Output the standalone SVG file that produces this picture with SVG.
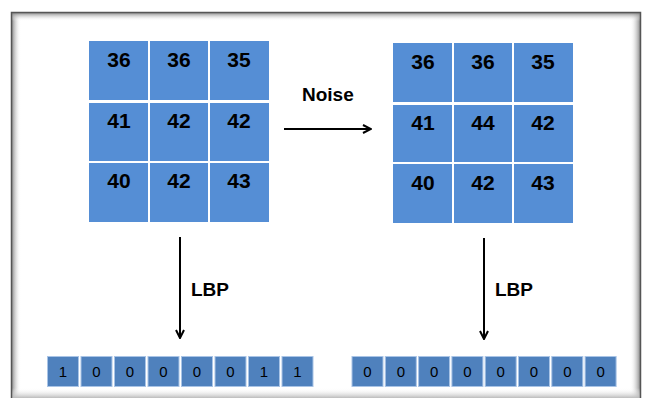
<svg xmlns="http://www.w3.org/2000/svg" width="646" height="398" viewBox="0 0 646 398">
  <defs>
    <style>
      .cell { fill: #558ED5; }
      .bit { fill: #4F81BD; stroke: #A9C4E6; stroke-width: 1; }
      .num { font-family: "Liberation Sans", Arial, sans-serif; font-weight: bold; font-size: 21px; fill: #000; text-anchor: middle; }
      .bitt { font-family: "Liberation Sans", Arial, sans-serif; font-size: 15px; fill: #000; text-anchor: middle; }
      .lbl { font-family: "Liberation Sans", Arial, sans-serif; font-weight: bold; font-size: 19px; fill: #000; }
      .conn { stroke: #000; stroke-width: 2; fill: none; }
    </style>
    <linearGradient id="shL" x1="0" y1="0" x2="1" y2="0">
      <stop offset="0" stop-color="#777"/>
      <stop offset="1" stop-color="#fff" stop-opacity="0"/>
    </linearGradient>
    <linearGradient id="shR" x1="1" y1="0" x2="0" y2="0">
      <stop offset="0" stop-color="#777"/>
      <stop offset="1" stop-color="#fff" stop-opacity="0"/>
    </linearGradient>
    <linearGradient id="shT" x1="0" y1="0" x2="0" y2="1">
      <stop offset="0" stop-color="#777"/>
      <stop offset="1" stop-color="#fff" stop-opacity="0"/>
    </linearGradient>
    <linearGradient id="shB" x1="0" y1="1" x2="0" y2="0">
      <stop offset="0" stop-color="#bbb"/>
      <stop offset="1" stop-color="#fff" stop-opacity="0"/>
    </linearGradient>
    <marker id="arrow" viewBox="0 0 10 10" refX="9" refY="5" markerWidth="5" markerHeight="5" orient="auto" markerUnits="strokeWidth">
      <path d="M1,1 L9,5 L1,9" fill="none" stroke="#000" stroke-width="2"/>
    </marker>
  </defs>

  <rect width="646" height="398" fill="#fff"/>

  <!-- framed panel with inner shadow -->
  <g id="frame">
    <rect x="11" y="12" width="10" height="386" fill="url(#shL)"/>
    <rect x="630" y="12" width="11" height="386" fill="url(#shR)"/>
    <rect x="11" y="12" width="630" height="9" fill="url(#shT)"/>
    <rect x="11" y="388" width="630" height="10" fill="url(#shB)"/>
    <path d="M11.5,398 V12.5 H640.5 V398" fill="none" stroke="#555" stroke-width="1.5"/>
  </g>

  <!-- original 3x3 patch -->
  <g id="patch-original">
    <rect class="cell" x="89" y="41" width="59" height="59"/>
    <rect class="cell" x="150" y="41" width="58" height="59"/>
    <rect class="cell" x="210" y="41" width="59" height="59"/>
    <rect class="cell" x="89" y="103" width="59" height="58"/>
    <rect class="cell" x="150" y="103" width="58" height="58"/>
    <rect class="cell" x="210" y="103" width="59" height="58"/>
    <rect class="cell" x="89" y="163" width="59" height="59"/>
    <rect class="cell" x="150" y="163" width="58" height="59"/>
    <rect class="cell" x="210" y="163" width="59" height="59"/>
    <text class="num" x="119" y="67">36</text>
    <text class="num" x="179" y="67">36</text>
    <text class="num" x="239" y="67">35</text>
    <text class="num" x="119" y="128">41</text>
    <text class="num" x="179" y="128">42</text>
    <text class="num" x="239" y="128">42</text>
    <text class="num" x="119" y="188">40</text>
    <text class="num" x="179" y="188">42</text>
    <text class="num" x="239" y="188">43</text>
  </g>

  <!-- noisy 3x3 patch -->
  <g id="patch-noisy">
    <rect class="cell" x="393" y="43" width="59" height="59"/>
    <rect class="cell" x="454" y="43" width="58" height="59"/>
    <rect class="cell" x="514" y="43" width="59" height="59"/>
    <rect class="cell" x="393" y="105" width="59" height="57"/>
    <rect class="cell" x="454" y="105" width="58" height="57"/>
    <rect class="cell" x="514" y="105" width="59" height="57"/>
    <rect class="cell" x="393" y="164" width="59" height="59"/>
    <rect class="cell" x="454" y="164" width="58" height="59"/>
    <rect class="cell" x="514" y="164" width="59" height="59"/>
    <text class="num" x="423" y="69">36</text>
    <text class="num" x="483" y="69">36</text>
    <text class="num" x="543" y="69">35</text>
    <text class="num" x="423" y="130">41</text>
    <text class="num" x="483" y="130">44</text>
    <text class="num" x="543" y="130">42</text>
    <text class="num" x="423" y="190">40</text>
    <text class="num" x="483" y="190">42</text>
    <text class="num" x="543" y="190">43</text>
  </g>

  <!-- LBP code of the original patch -->
  <g id="code-original">
    <rect class="bit" x="47.5" y="356.5" width="31" height="30"/>
    <rect class="bit" x="81" y="356.5" width="31" height="30"/>
    <rect class="bit" x="114.5" y="356.5" width="31" height="30"/>
    <rect class="bit" x="148" y="356.5" width="31" height="30"/>
    <rect class="bit" x="181.5" y="356.5" width="31" height="30"/>
    <rect class="bit" x="215" y="356.5" width="31" height="30"/>
    <rect class="bit" x="248.5" y="356.5" width="31" height="30"/>
    <rect class="bit" x="282" y="356.5" width="31" height="30"/>
    <text class="bitt" x="63" y="377">1</text>
    <text class="bitt" x="96.5" y="377">0</text>
    <text class="bitt" x="130" y="377">0</text>
    <text class="bitt" x="163.5" y="377">0</text>
    <text class="bitt" x="197" y="377">0</text>
    <text class="bitt" x="230.5" y="377">0</text>
    <text class="bitt" x="264" y="377">1</text>
    <text class="bitt" x="297.5" y="377">1</text>
  </g>

  <!-- LBP code of the noisy patch -->
  <g id="code-noisy">
    <rect class="bit" x="352" y="356.5" width="31" height="30"/>
    <rect class="bit" x="385.3" y="356.5" width="31" height="30"/>
    <rect class="bit" x="418.6" y="356.5" width="31" height="30"/>
    <rect class="bit" x="451.9" y="356.5" width="31" height="30"/>
    <rect class="bit" x="485.2" y="356.5" width="31" height="30"/>
    <rect class="bit" x="518.5" y="356.5" width="31" height="30"/>
    <rect class="bit" x="551.8" y="356.5" width="31" height="30"/>
    <rect class="bit" x="585.1" y="356.5" width="31" height="30"/>
    <text class="bitt" x="367.5" y="377">0</text>
    <text class="bitt" x="400.8" y="377">0</text>
    <text class="bitt" x="434.1" y="377">0</text>
    <text class="bitt" x="467.4" y="377">0</text>
    <text class="bitt" x="500.7" y="377">0</text>
    <text class="bitt" x="534" y="377">0</text>
    <text class="bitt" x="567.3" y="377">0</text>
    <text class="bitt" x="600.6" y="377">0</text>
  </g>

  <!-- connectors -->
  <g id="connectors">
    <line class="conn" x1="284" y1="129" x2="371" y2="129" marker-end="url(#arrow)"/>
    <line class="conn" x1="180" y1="237" x2="180" y2="338" marker-end="url(#arrow)"/>
    <line class="conn" x1="484" y1="238" x2="484" y2="339" marker-end="url(#arrow)"/>
    <text class="lbl" x="302" y="101">Noise</text>
    <text class="lbl" x="191" y="296">LBP</text>
    <text class="lbl" x="495" y="296">LBP</text>
  </g>
</svg>
